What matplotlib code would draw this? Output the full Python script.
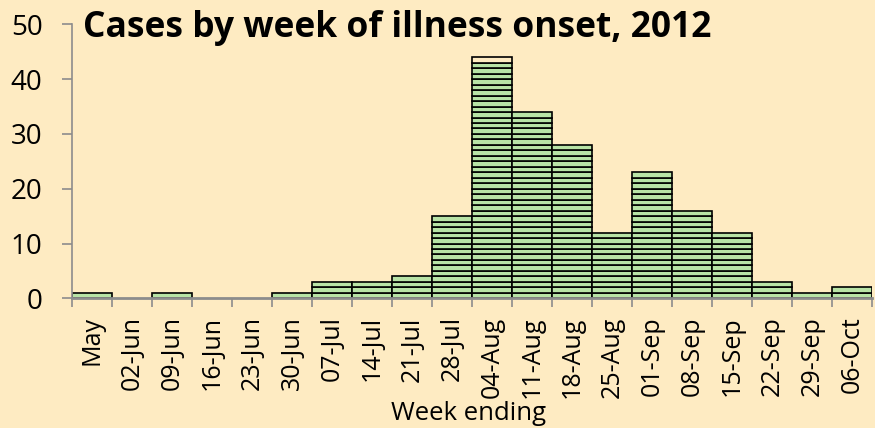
import matplotlib
matplotlib.use("Agg")
import matplotlib.pyplot as plt
import numpy as np

weeks = ["May", "02-Jun", "09-Jun", "16-Jun", "23-Jun", "30-Jun", "07-Jul",
         "14-Jul", "21-Jul", "28-Jul", "04-Aug", "11-Aug", "18-Aug", "25-Aug",
         "01-Sep", "08-Sep", "15-Sep", "22-Sep", "29-Sep", "06-Oct"]
cases_green = [1, 0, 1, 0, 0, 1, 3, 3, 4, 15, 43, 34, 28, 12, 23, 16, 12, 3, 1, 2]
cases_other = [0, 0, 0, 0, 0, 0, 0, 0, 0, 0, 1, 0, 0, 0, 0, 0, 0, 0, 0, 0]

BG = "#FEEBC2"
GREEN = "#B8E3A6"
GRAY = "#8C8C8C"

plt.rcParams["font.family"] = ["Open Sans", "DejaVu Sans"]

fig = plt.figure(figsize=(8.75, 4.28), dpi=100, facecolor=BG)
ax = fig.add_axes([72 / 875, 0.303, 800 / 875, 0.640])
ax.set_facecolor(BG)

x = np.arange(len(weeks))
green = np.array(cases_green)
other = np.array(cases_other)
total = green + other

# one box per case, stacked
for level in range(total.max()):
    mask = total > level
    colors = [GREEN if level < g else BG for g in green[mask]]
    ax.bar(x[mask], 1, bottom=level, width=1.0, color=colors,
           edgecolor="black", linewidth=1.2, zorder=2)

ax.set_xlim(-0.5, len(weeks) - 0.5)
ax.set_ylim(0, 50)
ax.set_yticks([0, 10, 20, 30, 40, 50])
ax.set_xticks(x, weeks, rotation=90, va="top")
ax.set_xticks(np.arange(len(weeks) + 1) - 0.5, minor=True)

for side in ("top", "right"):
    ax.spines[side].set_visible(False)
ax.spines["left"].set_color(GRAY)
ax.spines["left"].set_linewidth(1.2)
ax.spines["bottom"].set_color(GRAY)
ax.spines["bottom"].set_linewidth(2.0)
ax.spines["bottom"].set_zorder(3)

ax.tick_params(axis="y", colors=GRAY, labelcolor="black", length=7.2,
               width=1.2, labelsize=20, pad=14)
ax.tick_params(axis="x", which="major", length=0, labelsize=18,
               pad=13, labelcolor="black")
ax.tick_params(axis="x", which="minor", colors=GRAY, length=6.5, width=1.2)

fig.text(469 / 875, 1 - 420 / 428, "Week ending", fontsize=18.5,
         ha="center", va="baseline")

fig.text(83 / 875, 1 - 37 / 428, "Cases by week of illness onset, 2012",
         fontsize=25.5, fontweight="bold", va="baseline", ha="left")

fig.savefig("out.png", dpi=100, facecolor=BG)
